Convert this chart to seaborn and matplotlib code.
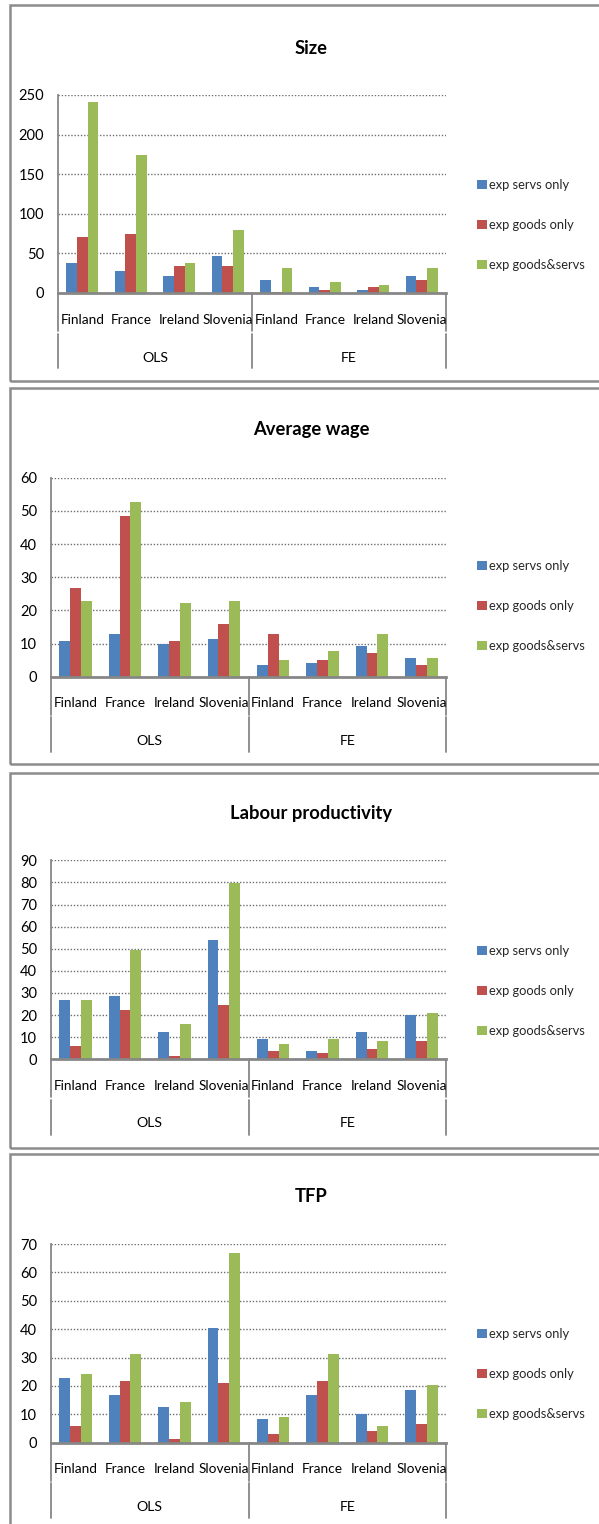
import numpy as np
import pandas as pd
import matplotlib
matplotlib.use("Agg")
import matplotlib.pyplot as plt
import seaborn as sns
from matplotlib.patches import Rectangle

# ---- data ---------------------------------------------------------------
countries = ["Finland", "France", "Ireland", "Slovenia"]
methods = ["OLS", "FE"]
series = ["exp servs only", "exp goods only", "exp goods&servs"]
colors = ["#4F81BD", "#C0504D", "#9BBB59"]

titles = ["Size", "Average wage", "Labour productivity", "TFP"]

size_servs = [38, 28, 22, 47, 16, 7.5, 4, 22]
size_goods = [71, 74, 34.5, 34.5, 1.5, 4, 7.5, 16]
size_both = [241, 174, 38, 80, 31.5, 13.5, 10, 31.5]

wage_servs = [10.7, 12.9, 10.0, 11.4, 3.4, 4.1, 9.2, 5.5]
wage_goods = [26.6, 48.4, 10.7, 15.8, 12.9, 4.9, 7.0, 3.4]
wage_both = [22.9, 52.8, 22.2, 22.9, 4.9, 7.8, 12.9, 5.5]

lp_servs = [26.7, 28.8, 12.4, 53.8, 9.3, 3.8, 12.4, 20.1]
lp_goods = [5.9, 22.3, 1.7, 24.4, 3.8, 2.7, 4.8, 8.1]
lp_both = [26.7, 49.6, 15.8, 79.9, 7.1, 9.3, 8.1, 21.1]

tfp_servs = [22.7, 16.7, 12.5, 40.4, 8.2, 16.7, 10.0, 18.4]
tfp_goods = [5.8, 21.7, 1.4, 20.9, 3.2, 21.7, 4.0, 6.6]
tfp_both = [24.3, 31.1, 14.2, 66.7, 9.2, 31.1, 5.8, 20.2]

size_ticks = [0, 50, 100, 150, 200, 250]
wage_ticks = [0, 10, 20, 30, 40, 50, 60]
lp_ticks = [0, 10, 20, 30, 40, 50, 60, 70, 80, 90]
tfp_ticks = [0, 10, 20, 30, 40, 50, 60, 70]

panel_values = [
    (size_servs, size_goods, size_both),
    (wage_servs, wage_goods, wage_both),
    (lp_servs, lp_goods, lp_both),
    (tfp_servs, tfp_goods, tfp_both),
]
panel_ticks = [size_ticks, wage_ticks, lp_ticks, tfp_ticks]

# ---- figure layout (pixels) ---------------------------------------------
W, H = 599, 1524
sns.set_theme(style="white")
plt.rcParams["font.family"] = ["Lato", "DejaVu Sans"]

fig = plt.figure(figsize=(W / 100, H / 100), dpi=100)
fig.patch.set_facecolor("white")


def fx(px):
    return px / W


def fy(py):
    return 1 - py / H


layout = [
    dict(frame=(5, 381), left=58, top=95, bottom=293, title_y=48, leg_y=225, cat_y=320, grp_y=358, line_end=368),
    dict(frame=(388, 764), left=51, top=477.7, bottom=676.7, title_y=430, leg_y=606, cat_y=703, grp_y=741, line_end=752),
    dict(frame=(773, 1148), left=51, top=860.3, bottom=1059.3, title_y=813, leg_y=991, cat_y=1086, grp_y=1123, line_end=1135),
    dict(frame=(1154, 1545), left=51, top=1244, bottom=1442.7, title_y=1196, leg_y=1374, cat_y=1469, grp_y=1507, line_end=1518),
]
RIGHT = 446
GREY = "#878787"

slots = [f"{m} {c}" for m in methods for c in countries]

for title, vals, ticks, lay in zip(titles, panel_values, panel_ticks, layout):
    # panel frame
    ft, fb = lay["frame"]
    fig.patches.append(Rectangle((fx(10), fy(fb)), fx(640) - fx(10), fy(ft) - fy(fb),
                                 transform=fig.transFigure, fill=False,
                                 edgecolor="#8c8c8c", linewidth=1.8, zorder=0))

    h_px = lay["bottom"] - lay["top"]
    ax = fig.add_axes([fx(lay["left"]), fy(lay["bottom"]),
                       fx(RIGHT) - fx(lay["left"]), h_px / H])

    df = pd.DataFrame({
        "slot": np.tile(slots, len(series)),
        "series": np.repeat(series, len(slots)),
        "value": np.concatenate(vals),
    })
    sns.barplot(data=df, x="slot", y="value", hue="series", order=slots,
                hue_order=series, palette=colors, saturation=1, width=0.66,
                errorbar=None, ax=ax, linewidth=0)

    ax.set_xlim(-0.5, len(slots) - 0.5)
    ax.set_ylim(0, ticks[-1])
    ax.set_yticks(ticks)
    ax.set_yticklabels([str(t) for t in ticks], fontsize=10.5, color="black")
    ax.tick_params(axis="y", length=0, pad=10)
    ax.set_xticks(range(len(slots)))
    ax.set_xticklabels([])
    ax.tick_params(axis="x", length=0)
    ax.set_xlabel("")
    ax.set_ylabel("")
    ax.yaxis.grid(True, linestyle=(0, (1, 1.3)), color="#6e6e6e", linewidth=1.0)
    ax.xaxis.grid(False)
    ax.set_axisbelow(True)
    for s in ["top", "right"]:
        ax.spines[s].set_visible(False)
    ax.spines["left"].set_color(GREY)
    ax.spines["left"].set_linewidth(1.3)
    ax.spines["bottom"].set_color(GREY)
    ax.spines["bottom"].set_linewidth(2.0)

    # category and group labels below the axis
    xtr = ax.get_xaxis_transform()
    cy = -(lay["cat_y"] - lay["bottom"]) / h_px
    gy = -(lay["grp_y"] - lay["bottom"]) / h_px
    for i, lab in enumerate(countries * len(methods)):
        ax.text(i, cy, lab, transform=xtr, ha="center", va="center",
                fontsize=9.8, color="black", clip_on=False)
    for j, m in enumerate(methods):
        ax.text(j * 4 + 1.5, gy, m, transform=xtr, ha="center", va="center",
                fontsize=10.2, color="black", clip_on=False)

    # group separator lines
    gap_top = -38.0 / h_px
    gap_bot = -40.5 / h_px
    end = -(lay["line_end"] - lay["bottom"]) / h_px
    for xa in [0.0, 0.5, 1.0]:
        ax.plot([xa, xa], [0, gap_top], transform=ax.transAxes, color=GREY,
                linewidth=1.3, clip_on=False)
        ax.plot([xa, xa], [gap_bot, end], transform=ax.transAxes, color=GREY,
                linewidth=1.3, clip_on=False)

    # title
    fig.text(fx(311), fy(lay["title_y"]), title, ha="center", va="center",
             fontsize=13.2, fontweight="bold", color="black")

    # legend placed to the right of the plot area
    handles, labels = ax.get_legend_handles_labels()
    if ax.get_legend() is not None:
        ax.get_legend().remove()
    fig.legend(handles, labels, loc="center left",
               bbox_to_anchor=(fx(477), fy(lay["leg_y"])),
               bbox_transform=fig.transFigure, frameon=False,
               handlelength=0.75, handleheight=0.75, handletextpad=0.2,
               labelspacing=2.15, fontsize=9.3, borderpad=0, borderaxespad=0)

fig.savefig("out.png", dpi=100, facecolor="white")
